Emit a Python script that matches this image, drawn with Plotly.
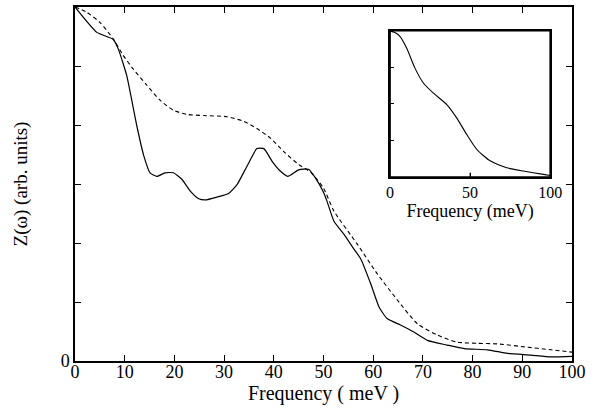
import plotly.graph_objects as go

# Main plot: solid curve
solid_x = [0, 4.4, 7.7, 8.7, 10.4, 12.4, 13.8, 15.1, 16.5, 18.1, 19.8, 21.5, 23.2, 24.9, 26.2,
           28.6, 30.9, 32.6, 34.6, 36.6, 38.0, 39.7, 41.3, 42.8, 45.0, 47.0, 48.4, 50.0, 50.7,
           52.1, 54.1, 56.1, 57.5, 59.5, 61.2, 62.8, 65.5, 68.2, 70.9, 74.9, 78.3, 83.0, 87.0,
           91.7, 95.8, 100]
solid_y = [6.0, 5.57, 5.45, 5.29, 4.84, 4.0, 3.49, 3.19, 3.13, 3.19, 3.19, 3.08, 2.88, 2.75, 2.73,
           2.78, 2.84, 2.99, 3.30, 3.60, 3.60, 3.38, 3.22, 3.13, 3.24, 3.25, 3.10, 2.86, 2.71,
           2.37, 2.15, 1.90, 1.73, 1.31, 0.91, 0.72, 0.61, 0.49, 0.35, 0.27, 0.21, 0.19, 0.13,
           0.10, 0.07, 0.08]

# Main plot: dashed curve
dash_x = [0, 2.4, 5.0, 7.7, 9.7, 11.7, 14.4, 17.1, 19.8, 22.5, 25.9, 30.6, 34.0, 36.6, 39.3,
          42.0, 45.0, 47.4, 50.0, 52.1, 56.8, 60.8, 64.9, 68.9, 72.9, 76.9, 80.9, 85.0, 90.4,
          95.8, 100]
dash_y = [6.0, 5.91, 5.74, 5.46, 5.18, 4.95, 4.68, 4.42, 4.25, 4.18, 4.16, 4.14, 4.06, 3.94, 3.78,
          3.55, 3.33, 3.20, 2.93, 2.54, 1.98, 1.48, 1.03, 0.63, 0.44, 0.32, 0.30, 0.29, 0.24,
          0.19, 0.15]

# Inset curve
inset_x = [0, 3, 6.25, 10.4, 15.6, 20.8, 27.1, 35.4, 41.7, 47.9, 54.2, 62.5, 72.9, 83.3, 95.8, 100]
inset_y = [3.99, 3.95, 3.84, 3.52, 2.97, 2.57, 2.29, 1.98, 1.61, 1.16, 0.75, 0.44, 0.25, 0.16, 0.07, 0.04]

main_xticks = [0, 10, 20, 30, 40, 50, 60, 70, 80, 90, 100]
main_yticks = [0, 1, 2, 3, 4, 5, 6]
main_yticktext = ["0", "", "", "", "", "", ""]
inset_xticks = [0, 50, 100]
inset_yticks = [0, 1, 2, 3, 4]

FONT = "Liberation Serif"

fig = go.Figure()
fig.add_trace(go.Scatter(x=solid_x, y=solid_y, mode="lines",
                         line=dict(color="black", width=1.2, shape="spline", smoothing=0.5),
                         showlegend=False))
fig.add_trace(go.Scatter(x=dash_x, y=dash_y, mode="lines",
                         line=dict(color="black", width=1.1, dash="4px,3px", shape="spline", smoothing=0.6),
                         showlegend=False))
fig.add_trace(go.Scatter(x=inset_x, y=inset_y, mode="lines", xaxis="x2", yaxis="y2",
                         line=dict(color="black", width=1.1, shape="spline", smoothing=0.6),
                         showlegend=False))

def ax(**kw):
    d = dict(showline=True, linecolor="black", linewidth=1.5,
             ticks="inside", tickcolor="black", showgrid=False, zeroline=False)
    d.update(kw)
    return d

fig.update_layout(
    width=598, height=414,
    margin=dict(l=75, r=26, t=5, b=53),
    plot_bgcolor="white", paper_bgcolor="white",
    font=dict(family=FONT, color="black"),
    xaxis=ax(range=[0, 100], tickvals=main_xticks, ticklen=6, domain=[0, 1], mirror="ticks",
             tickfont=dict(family=FONT, size=18, color="black"), ticklabelstandoff=-6,
             title=dict(text="Frequency ( meV )", font=dict(family=FONT, size=20), standoff=2)),
    yaxis=ax(range=[0, 6], tickvals=main_yticks, ticktext=main_yticktext, ticklen=6,
             domain=[0, 1], mirror="ticks",
             tickfont=dict(family=FONT, size=18, color="black"),
             title=dict(text="Z(ω) (arb. units)", font=dict(family=FONT, size=19), standoff=28)),
    xaxis2=ax(range=[0, 100], tickvals=inset_xticks, ticklen=4, domain=[0.634, 0.956],
              anchor="y2", mirror=True,
              tickfont=dict(family=FONT, size=16, color="black"),
              title=dict(text="Frequency (meV)", font=dict(family=FONT, size=18), standoff=0)),
    yaxis2=ax(range=[0, 4], tickvals=inset_yticks, showticklabels=False, ticklen=4,
              domain=[0.52, 0.933], anchor="x2", mirror=True),
)

# Inset frame (drawn explicitly so all four sides show)
fig.add_shape(type="rect", xref="x2 domain", yref="y2 domain", x0=0, x1=1, y0=0, y1=1,
              line=dict(color="black", width=1.5), layer="above")
fig.add_shape(type="line", xref="x2", yref="y2 domain", x0=inset_xticks[1], x1=inset_xticks[1],
              y0=0, y1=0.03, line=dict(color="black", width=1), layer="above")

fig.write_html("out.html")
